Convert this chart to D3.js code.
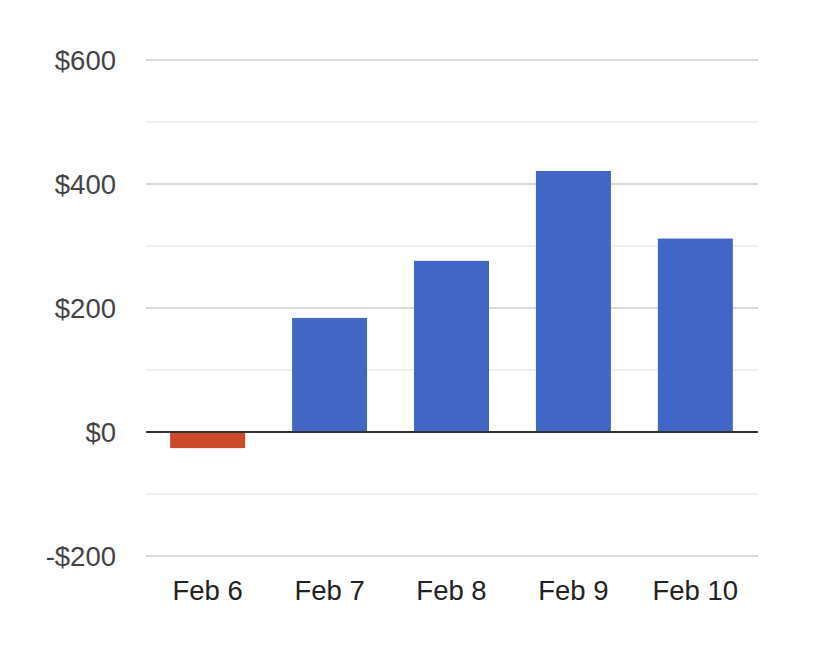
<!DOCTYPE html>
<html><head><meta charset="utf-8">
<script src="https://cdn.jsdelivr.net/npm/d3@7"></script>
<style>body{margin:0;background:#fff}svg{display:block}</style>
</head><body>
<svg id="chart" width="820" height="654"></svg>
<script>
const categories = ["Feb 6","Feb 7","Feb 8","Feb 9","Feb 10"];
const values = [-26, 184, 276, 421, 312];
const majorTicks = [-200, 0, 200, 400, 600];
const minorTicks = [-100, 100, 300, 500];

const svg = d3.select("#chart");
const mLeft = 146, mRight = 758, mTop = 60, mBottom = 556;
const x = d3.scaleBand().domain(categories).range([147, 756]).paddingInner(0.385).paddingOuter(0.19);
const y = d3.scaleLinear().domain([-200, 600]).range([mBottom, mTop]);

svg.append("g").selectAll("line").data(minorTicks).join("line")
  .attr("x1", mLeft).attr("x2", mRight).attr("y1", d=>y(d)).attr("y2", d=>y(d))
  .attr("stroke", "#ebebeb").attr("stroke-width", 1.5);
svg.append("g").selectAll("line").data(majorTicks.filter(d=>d!==0)).join("line")
  .attr("x1", mLeft).attr("x2", mRight).attr("y1", d=>y(d)).attr("y2", d=>y(d))
  .attr("stroke", "#cccccc").attr("stroke-width", 1.5);

svg.append("g").selectAll("rect").data(values).join("rect")
  .attr("x", (d,i)=>x(categories[i]))
  .attr("width", x.bandwidth())
  .attr("y", d=>y(Math.max(0,d)))
  .attr("height", d=>Math.abs(y(d)-y(0)))
  .attr("fill", d=> d<0 ? "#cc4a2a" : "#4166c5");

svg.append("line").attr("x1", mLeft).attr("x2", mRight).attr("y1", y(0)).attr("y2", y(0))
  .attr("stroke", "#333").attr("stroke-width", 2);

const fmt = d => (d<0?"-":"") + "$" + Math.abs(d);
svg.append("g").selectAll("text").data(majorTicks).join("text")
  .attr("x", 116).attr("y", d=>y(d) + 10)
  .attr("text-anchor", "end")
  .attr("font-family", "Liberation Sans, Arial, sans-serif").attr("font-size", 27.5)
  .attr("fill", "#444").text(fmt);

svg.append("g").selectAll("text").data(categories).join("text")
  .attr("x", d=>x(d)+x.bandwidth()/2).attr("y", 600)
  .attr("text-anchor", "middle")
  .attr("font-family", "Liberation Sans, Arial, sans-serif").attr("font-size", 27.5)
  .attr("fill", "#222").text(d=>d);
</script>
</body></html>
